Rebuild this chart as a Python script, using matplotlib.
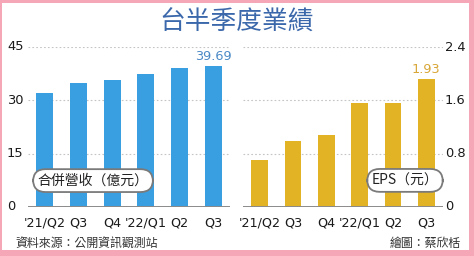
import matplotlib
matplotlib.use("Agg")
import matplotlib.pyplot as plt
from matplotlib.patches import Rectangle

periods = ["'21/Q2", "Q3", "Q4", "'22/Q1", "Q2", "Q3"]
revenue = [32.0, 34.8, 35.7, 37.3, 39.2, 39.69]
eps = [0.71, 0.99, 1.08, 1.56, 1.56, 1.93]
rev_ticks = [0, 15, 30, 45]
rev_tick_labels = ["0", "15", "30", "45"]
eps_ticks = [0, 0.8, 1.6, 2.4]
eps_tick_labels = ["0", "0.8", "1.6", "2.4"]
title = "台半季度業績"
rev_label = "合併營收（億元）"
eps_label = "EPS（元）"
source = "資料來源：公開資訊觀測站"
credit = "繪圖：蔡欣栝"

W, H = 474, 256
NUM = ['DejaVu Sans', 'Noto Sans CJK TC']
CJK = ['Noto Sans CJK TC', 'DejaVu Sans']

fig = plt.figure(figsize=(W / 100, H / 100), dpi=100, facecolor='#f5a6b7')
# white inner panel
fig.patches.append(Rectangle((2 / W, 6 / H), (469 - 2) / W, (253 - 6) / H,
                             transform=fig.transFigure, fc='white', ec='none', zorder=-10))


def px(x0, y_top, x1, y_bot):
    return [x0 / W, 1 - y_bot / H, (x1 - x0) / W, (y_bot - y_top) / H]


def make_panel(rect, values, color, ticks, tick_labels, ymax, value_label, label_color,
               box_text, box_x, label_x):
    ax = fig.add_axes(rect)
    ax.set_facecolor('none')
    x = list(range(len(values)))
    ax.bar(x, values, width=0.5, color=color, zorder=2)
    ax.set_xlim(-0.5, len(values) - 0.5)
    ax.set_ylim(0, ymax)
    for s in ax.spines.values():
        s.set_visible(False)
    ax.set_yticks([])
    for t in ticks[1:]:
        ax.axhline(t, color='#c4c4c4', lw=0.8, ls=(0, (1.5, 2)), zorder=1)
    ax.axhline(0, color='#8a8a8a', lw=1.4, zorder=3)
    for t, lab in zip(ticks, tick_labels):
        ax.text(label_x, t, lab, transform=ax.get_yaxis_transform(), ha='left', va='center',
                fontsize=9.4, family=NUM, color='#1a1a1a')
    ax.set_xticks(x)
    ax.set_xticklabels(periods, fontsize=9.2, family=NUM, color='#1a1a1a')
    ax.tick_params(axis='x', length=0, pad=7)
    ax.annotate(value_label, (x[-1], values[-1]), xytext=(0, 2), textcoords='offset points',
                ha='center', va='bottom', fontsize=9.3, family=NUM, color=label_color)
    ax.text(box_x, 0.165, box_text, transform=ax.transAxes, ha='center', va='center',
            fontsize=10, family=CJK, color='#222222', zorder=5,
            bbox=dict(boxstyle='round,pad=0.32,rounding_size=0.9', fc='white',
                      ec='#7a7a7a', lw=1.3))
    return ax


make_panel(px(28, 47, 230, 207), revenue, '#3a9fe1', rev_ticks, rev_tick_labels, 45,
           '39.69', '#4a89c6', rev_label, (93 - 28) / 202, (7 - 28) / 202)
make_panel(px(243, 47.3, 443, 206.7), eps, '#e3b326', eps_ticks, eps_tick_labels, 2.4,
           '1.93', '#d8a637', eps_label, (405 - 243) / 200, (445 - 243) / 200)

fig.text(237 / W, 1 - 23 / H, title, ha='center', va='center', fontsize=18.5,
         family=CJK, color='#3b68ab')
fig.text(15 / W, 1 - 243 / H, source, ha='left', va='center', fontsize=8.6,
         family=CJK, color='#333333')
fig.text(461 / W, 1 - 243 / H, credit, ha='right', va='center', fontsize=8.6,
         family=CJK, color='#333333')

fig.savefig('out.png', dpi=100, facecolor=fig.get_facecolor())
